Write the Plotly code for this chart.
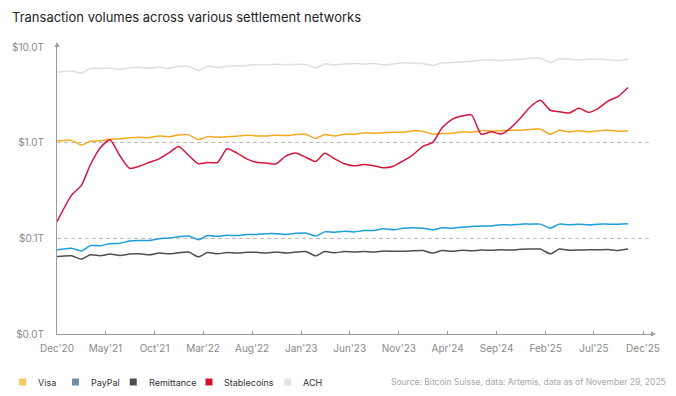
import pandas as pd
import plotly.graph_objects as go

# ---- data (values in trillions USD, monthly Dec 2020 .. Oct 2025) ----
months = pd.period_range("2020-12", "2025-10", freq="M")
dates = list(months.to_timestamp() + pd.Timedelta(days=14))
dates[0] = pd.Timestamp("2020-12-01")

ach = [5.48, 5.65, 5.35, 6.00, 6.00, 6.03, 5.89, 6.08, 6.15, 6.03,
       6.18, 6.03, 6.30, 6.30, 5.69, 6.30, 6.12, 6.30, 6.38, 6.45,
       6.61, 6.53, 6.64, 6.53, 6.61, 6.61, 6.08, 6.69, 6.53, 6.69,
       6.77, 6.69, 6.77, 6.53, 6.69, 6.86, 6.81, 6.77, 6.45, 6.86,
       6.90, 7.02, 7.14, 7.28, 7.37, 7.24, 7.37, 7.49, 7.64, 7.68,
       6.90, 7.54, 7.46, 7.37, 7.46, 7.54, 7.37, 7.24, 7.49]

visa = [1.05, 1.06, 0.95, 1.04, 1.05, 1.09, 1.10, 1.13, 1.14, 1.13,
        1.18, 1.16, 1.21, 1.21, 1.08, 1.16, 1.14, 1.16, 1.17, 1.20,
        1.18, 1.18, 1.20, 1.19, 1.22, 1.23, 1.11, 1.22, 1.18, 1.23,
        1.23, 1.27, 1.26, 1.27, 1.29, 1.29, 1.33, 1.32, 1.23, 1.25,
        1.26, 1.30, 1.29, 1.34, 1.33, 1.34, 1.35, 1.35, 1.38, 1.39,
        1.23, 1.35, 1.30, 1.34, 1.30, 1.34, 1.35, 1.32, 1.34]

paypal = [0.076, 0.079, 0.074, 0.084, 0.084, 0.088, 0.089, 0.094, 0.095, 0.095,
          0.099, 0.101, 0.104, 0.106, 0.097, 0.107, 0.105, 0.108, 0.107, 0.110,
          0.110, 0.112, 0.112, 0.110, 0.113, 0.114, 0.106, 0.117, 0.116, 0.119,
          0.117, 0.121, 0.121, 0.126, 0.123, 0.128, 0.129, 0.128, 0.123, 0.129,
          0.128, 0.131, 0.133, 0.135, 0.135, 0.139, 0.138, 0.141, 0.141, 0.141,
          0.128, 0.141, 0.139, 0.141, 0.138, 0.141, 0.141, 0.141, 0.142]

remittance = [0.0647, 0.0658, 0.0607, 0.0674, 0.0658, 0.0685, 0.0662, 0.0685, 0.0690, 0.0674,
              0.0702, 0.0690, 0.0707, 0.0719, 0.0642, 0.0712, 0.0690, 0.0712, 0.0702, 0.0715,
              0.0715, 0.0702, 0.0719, 0.0702, 0.0719, 0.0729, 0.0658, 0.0729, 0.0707, 0.0729,
              0.0719, 0.0729, 0.0719, 0.0737, 0.0733, 0.0733, 0.0742, 0.0747, 0.0702, 0.0747,
              0.0733, 0.0751, 0.0742, 0.0756, 0.0751, 0.0760, 0.0754, 0.0769, 0.0773, 0.0773,
              0.0690, 0.0773, 0.0751, 0.0756, 0.0760, 0.0760, 0.0766, 0.0747, 0.0773]

stablecoins = [0.150, 0.282, 0.359, 0.589, 0.886, 1.075, 0.731, 0.541, 0.568, 0.625,
               0.680, 0.786, 0.915, 0.740, 0.603, 0.622, 0.622, 0.866, 0.780, 0.680,
               0.625, 0.613, 0.603, 0.731, 0.780, 0.705, 0.638, 0.777, 0.680, 0.603,
               0.575, 0.592, 0.575, 0.548, 0.568, 0.648, 0.749, 0.919, 1.012, 1.435,
               1.762, 1.902, 1.949, 1.227, 1.303, 1.236, 1.435, 1.826, 2.380, 2.783,
               2.188, 2.110, 2.050, 2.296, 2.085, 2.296, 2.750, 3.065, 3.790]

tick_dates = pd.date_range("2020-12-01", "2025-12-01", freq="5MS")
tick_labels = ["Dec'20", "May'21", "Oct'21", "Mar'22", "Aug'22", "Jan'23", "Jun'23",
               "Nov'23", "Apr'24", "Sep'24", "Feb'25", "Jul'25", "Dec'25"]
y_ticks = [0.01, 0.1, 1, 10]
y_labels = ["$0.0T", "$0.1T", "$1.0T", "$10.0T"]

series = [
    ("ACH", ach, "#DEDEDE", "#E3E3E3"),
    ("Visa", visa, "#F6A821", "#F9C85C"),
    ("PayPal", paypal, "#1E9DDB", "#6F8EA7"),
    ("Remittance", remittance, "#4F4F4F", "#4F4F4F"),
    ("Stablecoins", stablecoins, "#D4163C", "#D0112D"),
]

fig = go.Figure()
for name, vals, col, _ in series:
    fig.add_trace(go.Scatter(x=dates, y=vals, name=name, mode="lines",
                             line=dict(color=col, width=1.5, shape="spline", smoothing=0.6),
                             showlegend=False, hoverinfo="skip"))

FONT = "Inter, Roboto, sans-serif"
fig.update_layout(
    width=676, height=396,
    margin=dict(l=55, r=24, t=47, b=62),
    paper_bgcolor="white", plot_bgcolor="white",
    title=dict(text="Transaction volumes across various settlement networks",
               x=12 / 676, xanchor="left", xref="container",
               y=1 - 17 / 396, yanchor="middle", yref="container",
               font=dict(family=FONT, size=13, color="#222222")),
    xaxis=dict(type="date", range=["2020-12-01", "2025-12-29"],
               tickvals=list(tick_dates), ticktext=tick_labels,
               showgrid=False, showline=True, linecolor="#9a9a9a", linewidth=1,
               ticks="inside", ticklen=3, tickcolor="#9a9a9a",
               tickfont=dict(family=FONT, size=10, color="#8a8a8a"),
               ticklabelstandoff=5, zeroline=False),
    yaxis=dict(type="log", range=[-2, 1.002],
               tickvals=y_ticks, ticktext=y_labels,
               showgrid=True, gridcolor="#bdbdbd", griddash="4px,3px", gridwidth=1,
               showline=True, linecolor="#9a9a9a", linewidth=1, ticks="",
               tickfont=dict(family=FONT, size=10, color="#8a8a8a"),
               ticklabelstandoff=10, zeroline=False),
    showlegend=False,
)

# axis arrows
fig.add_shape(type="path", xref="paper", yref="paper", xsizemode="pixel", ysizemode="pixel",
              xanchor=0, yanchor=1, path="M -2.5 0 L 2.5 0 L 0 5 Z",
              fillcolor="#9a9a9a", line=dict(width=0))
fig.add_shape(type="path", xref="paper", yref="paper", xsizemode="pixel", ysizemode="pixel",
              xanchor=1, yanchor=0, path="M -1 -2.5 L -1 2.5 L 4 0 Z",
              fillcolor="#9a9a9a", line=dict(width=0))

# custom legend row
legend_x = [17, 70, 128, 204, 283]
order = ["Visa", "PayPal", "Remittance", "Stablecoins", "ACH"]
lookup = {s[0]: s for s in series}
for name, lx in zip(order, legend_x):
    lcol = lookup[name][3]
    fig.add_shape(type="rect", xref="paper", yref="paper", xsizemode="pixel", ysizemode="pixel",
                  xanchor=(lx - 55) / 597, yanchor=-(382 - 334) / 287,
                  x0=0, x1=7, y0=-3.5, y1=3.5, fillcolor=lcol, line=dict(width=0))
    fig.add_annotation(text=name, xref="paper", yref="paper",
                       x=(lx + 17 - 55) / 597, y=-(382 - 334) / 287,
                       xanchor="left", yanchor="middle", showarrow=False,
                       font=dict(family=FONT, size=9, color="#333333"))

fig.add_annotation(text="Source: Bitcoin Suisse, data: Artemis, data as of November 29, 2025",
                   xref="paper", yref="paper", x=(668 - 55) / 597, y=-(382 - 334) / 287,
                   xanchor="right", yanchor="middle", showarrow=False,
                   font=dict(family=FONT, size=8.5, color="#a8a8a8"))

fig.write_html("out.html", config={"displayModeBar": False},
               post_script="document.body.style.margin='0';")
